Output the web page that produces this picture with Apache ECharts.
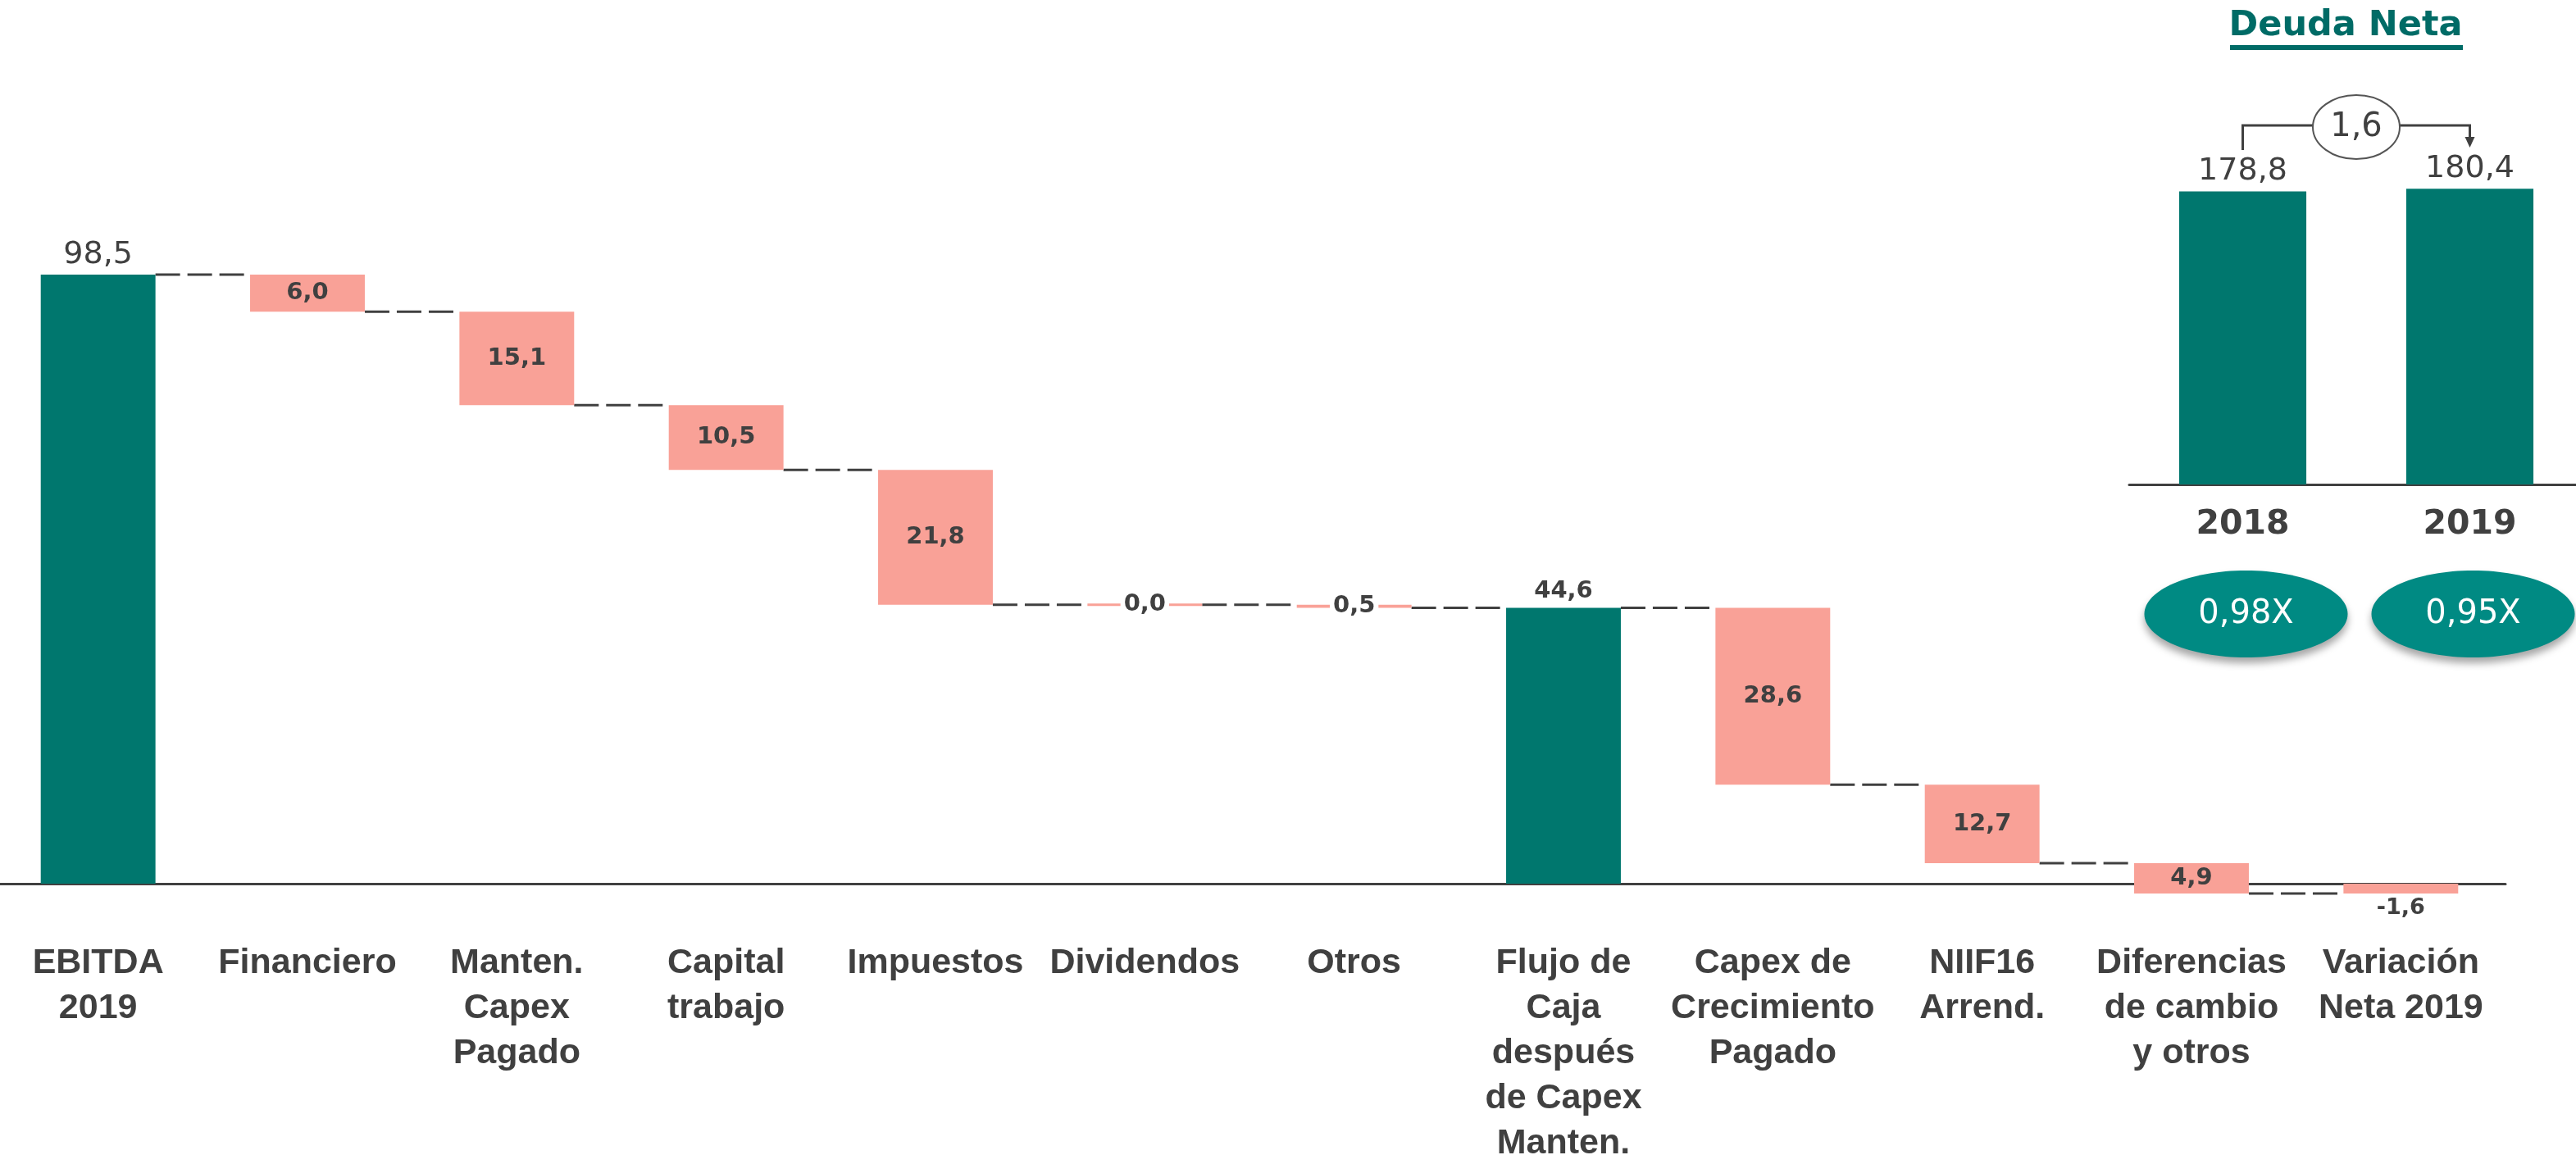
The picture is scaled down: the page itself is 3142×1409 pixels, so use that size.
<!DOCTYPE html>
<html>
<head>
<meta charset="utf-8">
<script src="https://cdn.jsdelivr.net/npm/echarts@6/dist/echarts.min.js"></script>
<style>
  html, body { margin: 0; padding: 0; background: #ffffff; }
  #chart { width: 3142px; height: 1409px; }
</style>
</head>
<body>
<div id="chart"></div>
<script>
// Cash-flow bridge 2019 (waterfall) and net debt 2018 → 2019
const categories = [
  'EBITDA\n2019', 'Financiero', 'Manten.\nCapex\nPagado', 'Capital\ntrabajo',
  'Impuestos', 'Dividendos', 'Otros', 'Flujo de\nCaja\ndespués\nde Capex\nManten.',
  'Capex de\nCrecimiento\nPagado', 'NIIF16\nArrend.', 'Diferencias\nde cambio\ny otros',
  'Variación\nNeta 2019'
];
// 'total' = subtotal from zero, 'step' = movement from running level, 'net' = final result from zero
const kinds = ['total', 'step', 'step', 'step', 'step', 'step', 'step', 'total', 'step', 'step', 'step', 'net'];
const amounts = [98.5, -6.0, -15.1, -10.5, -21.8, 0.0, -0.5, 44.6, -28.6, -12.7, -4.9, -1.6];

const debtYears = ['2018', '2019'];
const debtValues = [178.8, 180.4];
const leverageRatios = [0.98, 0.95];

const TEAL = '#00776E';
const SALMON = '#F9A197';
const INK = '#404040';
const NUM_FONT = '"DejaVu Sans", Verdana, sans-serif';
const CAT_FONT = '"Liberation Sans", Arial, sans-serif';

const fmt = (v, d) => v.toFixed(d === undefined ? 1 : d).replace('.', ',');

// Build bar spans [index, start, end, amount] and connector levels
const bars = [];
let running = 0;
amounts.forEach((a, i) => {
  let s, e;
  if (kinds[i] === 'step') { s = running; e = running + a; }
  else { s = 0; e = a; }
  running = e;
  bars.push([i, s, e, a]);
});
const connectors = bars.slice(0, -1).map(b => [b[0], b[2]]);

const BAR_FRACTION = 0.548;

function renderBar(params, api) {
  const i = api.value(0);
  const s = api.value(1), e = api.value(2), a = api.value(3);
  const kind = kinds[i];
  const bw = api.size([1, 0])[0] * BAR_FRACTION;
  const cx = api.coord([i, 0])[0];
  const y0 = api.coord([i, s])[1], y1 = api.coord([i, e])[1];
  let top = Math.min(y0, y1), h = Math.abs(y1 - y0);
  if (h < 3) { top = (y0 + y1) / 2 - 1.5; h = 3; }
  const children = [{
    type: 'rect',
    shape: { x: cx - bw / 2, y: top, width: bw, height: h },
    style: { fill: kind === 'total' ? TEAL : SALMON }
  }];
  let label;
  if (kind === 'total') {
    const big = i === 0;
    label = {
      type: 'text', z2: 10,
      style: {
        text: fmt(a), x: cx, y: top - (big ? 5 : 6), align: 'center', verticalAlign: 'bottom',
        font: (big ? 'normal 38px ' : 'bold 29px ') + NUM_FONT, fill: INK
      }
    };
  } else if (kind === 'net') {
    label = {
      type: 'text', z2: 10,
      style: {
        text: fmt(a), x: cx, y: top + h + 4, align: 'center', verticalAlign: 'top',
        font: 'bold 27px ' + NUM_FONT, fill: INK
      }
    };
  } else {
    const thin = h < 20;
    label = {
      type: 'text', z2: 10,
      style: {
        text: fmt(Math.abs(a)), x: cx, y: top + h / 2, align: 'center', verticalAlign: 'middle',
        font: 'bold 29px ' + NUM_FONT, fill: INK,
        backgroundColor: thin ? '#ffffff' : null, padding: thin ? [2, 4] : 0
      }
    };
  }
  children.push(label);
  return { type: 'group', children };
}

function renderConnector(params, api) {
  const i = api.value(0), level = api.value(1);
  const bw = api.size([1, 0])[0] * BAR_FRACTION;
  const p = api.coord([i, level]);
  const q = api.coord([i + 1, level]);
  return {
    type: 'line',
    shape: { x1: p[0] + bw / 2, y1: p[1], x2: q[0] - bw / 2, y2: q[1] },
    style: { stroke: INK, lineWidth: 3, lineDash: [30, 9] }
  };
}

const chart = echarts.init(document.getElementById('chart'), null, { renderer: 'canvas' });

chart.setOption({
  animation: false,
  backgroundColor: '#ffffff',
  grid: [
    // zero line sits on the grid bottom; the final negative movement extends just below it
    { left: -8, width: 3064, top: 172.8, bottom: 331, containLabel: false, outerBoundsMode: 'none' },
    { left: 2597, width: 554, top: 191, height: 400, containLabel: false, outerBoundsMode: 'none' }
  ],
  xAxis: [
    {
      gridIndex: 0, type: 'category', data: categories,
      axisLine: { lineStyle: { color: INK, width: 3 } },
      axisTick: { show: false },
      axisLabel: {
        interval: 0, margin: 70, color: INK,
        fontFamily: CAT_FONT, fontWeight: 'bold', fontSize: 43, lineHeight: 55
      }
    },
    {
      gridIndex: 1, type: 'category', data: debtYears,
      axisLine: { lineStyle: { color: INK, width: 3 } },
      axisTick: { show: false },
      axisLabel: {
        margin: 29, color: INK, fontFamily: NUM_FONT, fontWeight: 'bold', fontSize: 41, lineHeight: 41
      }
    }
  ],
  yAxis: [
    { gridIndex: 0, type: 'value', min: 0, max: 120, show: false, splitLine: { show: false } },
    { gridIndex: 1, type: 'value', min: 0, max: 200, show: false, splitLine: { show: false } }
  ],
  series: [
    {
      type: 'custom', name: 'conectores', xAxisIndex: 0, yAxisIndex: 0, clip: false,
      renderItem: renderConnector, data: connectors, z: 2
    },
    {
      type: 'custom', name: 'flujo', xAxisIndex: 0, yAxisIndex: 0, clip: false,
      renderItem: renderBar, data: bars, z: 3
    },
    {
      type: 'bar', name: 'Deuda Neta', xAxisIndex: 1, yAxisIndex: 1,
      data: debtValues, barWidth: '56%',
      itemStyle: { color: TEAL },
      label: {
        show: true, position: 'top', distance: 5, color: INK,
        fontFamily: NUM_FONT, fontSize: 38, formatter: p => fmt(p.value)
      }
    }
  ]
});

// Annotations on the net debt panel: title, change bracket and leverage ellipses
const xs = debtYears.map(y => chart.convertToPixel({ xAxisIndex: 1 }, y));
const midX = (xs[0] + xs[1]) / 2;
const bracketY = 153;
const change = debtValues[1] - debtValues[0];

const graphics = [
  {
    type: 'text', x: 2861, y: 53, z: 10,
    style: {
      text: 'Deuda Neta', align: 'center', verticalAlign: 'bottom',
      font: 'bold 43px ' + NUM_FONT, fill: '#006B66'
    }
  },
  { type: 'rect', shape: { x: 2720, y: 55, width: 284, height: 6 }, style: { fill: '#006B66' }, z: 10 },
  {
    type: 'polyline', z: 10,
    shape: { points: [[xs[0], 183], [xs[0], bracketY], [midX - 53, bracketY]] },
    style: { stroke: INK, lineWidth: 3, fill: null }
  },
  {
    type: 'polyline', z: 10,
    shape: { points: [[midX + 53, bracketY], [xs[1], bracketY], [xs[1], 172]] },
    style: { stroke: INK, lineWidth: 3, fill: null }
  },
  {
    type: 'polygon', z: 10,
    shape: { points: [[xs[1] - 6, 167], [xs[1] + 6, 167], [xs[1], 180]] },
    style: { fill: INK }
  },
  {
    type: 'ellipse', z: 10,
    shape: { cx: midX, cy: 155, rx: 53, ry: 39 },
    style: { fill: '#ffffff', stroke: '#555555', lineWidth: 2 }
  },
  {
    type: 'text', z: 11, x: midX, y: 156,
    style: { text: fmt(change), align: 'center', verticalAlign: 'middle', font: 'normal 40px ' + NUM_FONT, fill: INK }
  }
];

leverageRatios.forEach((r, k) => {
  graphics.push({
    type: 'ellipse', z: 10,
    shape: { cx: xs[k] + 4, cy: 749, rx: 124, ry: 53 },
    style: {
      fill: '#008A83', shadowBlur: 10, shadowOffsetY: 7, shadowColor: 'rgba(0,0,0,0.35)'
    }
  });
  graphics.push({
    type: 'text', z: 11, x: xs[k] + 4, y: 750,
    style: {
      text: fmt(r, 2) + 'X', align: 'center', verticalAlign: 'middle',
      font: 'normal 40px ' + NUM_FONT, fill: '#ffffff'
    }
  });
});

chart.setOption({ graphic: graphics });
</script>
</body>
</html>
